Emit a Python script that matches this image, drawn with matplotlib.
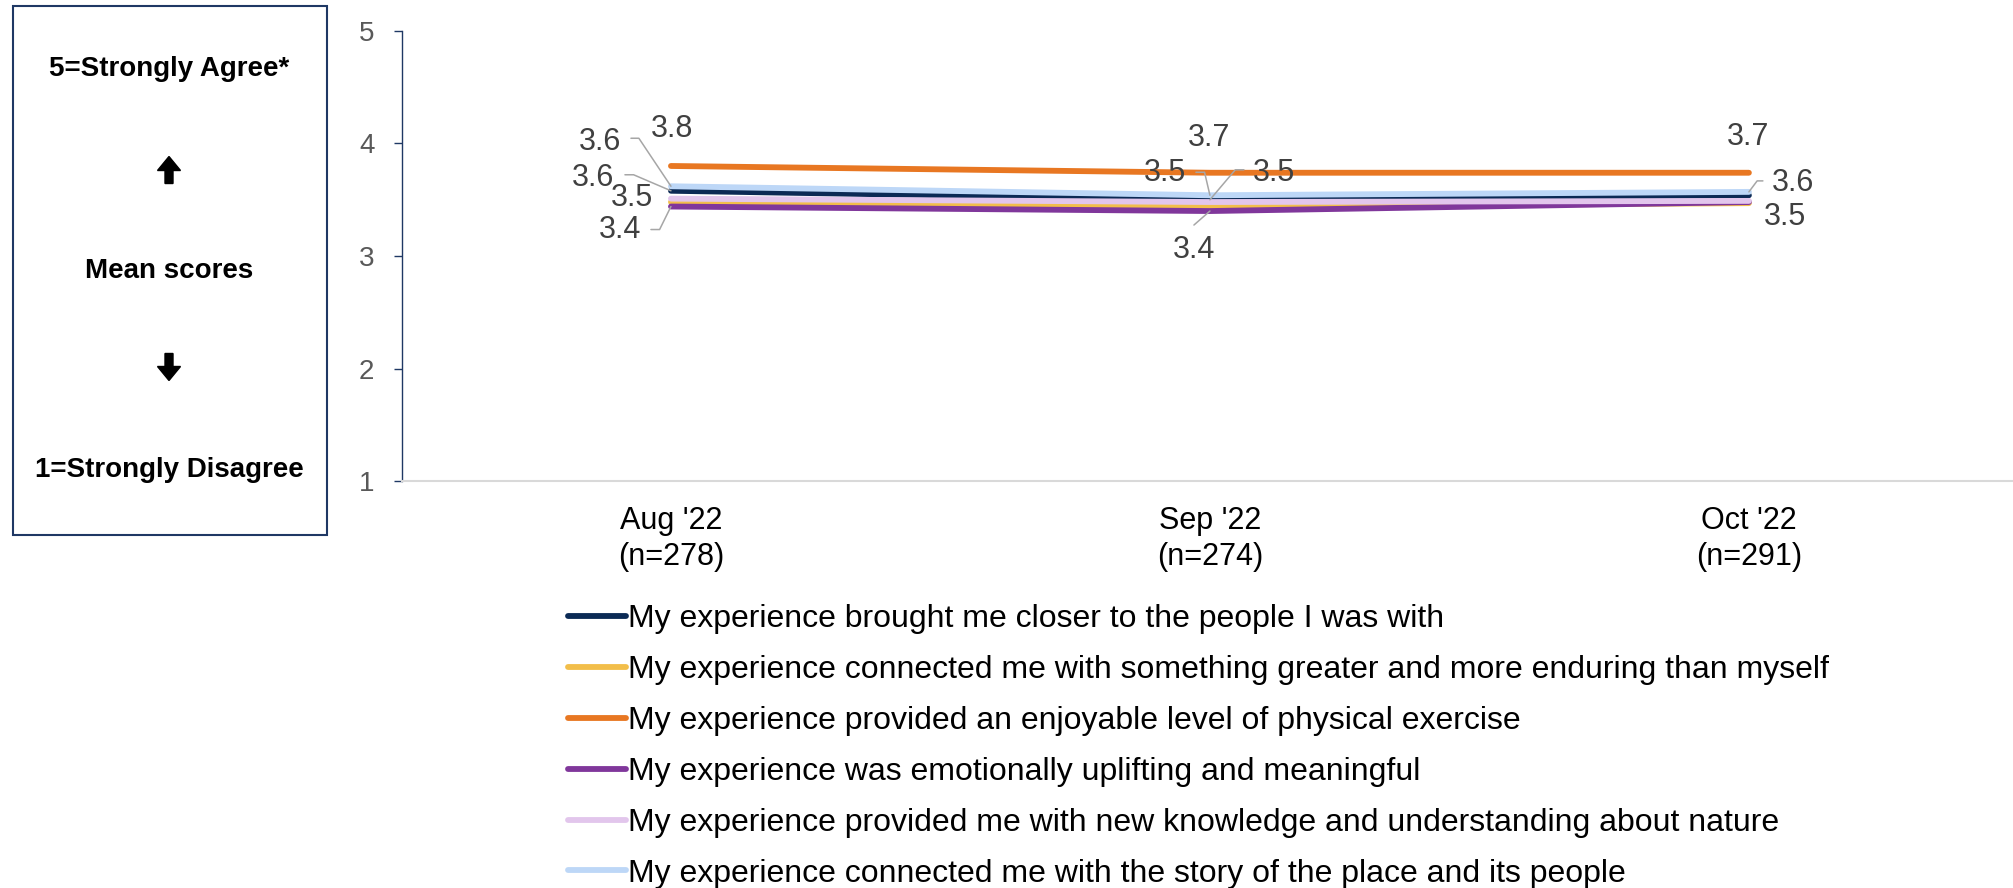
import matplotlib
matplotlib.use("Agg")
import matplotlib.pyplot as plt
from matplotlib.patches import FancyArrow, Rectangle

MONTHS = ["Aug '22", "Sep '22", "Oct '22"]
SAMPLE_SIZES = [278, 274, 291]

STATEMENTS = [
    "My experience brought me closer to the people I was with",
    "My experience connected me with something greater and more enduring than myself",
    "My experience provided an enjoyable level of physical exercise",
    "My experience was emotionally uplifting and meaningful",
    "My experience provided me with new knowledge and understanding about nature",
    "My experience connected me with the story of the place and its people",
]
COLORS = ["#0B2A55", "#F2BE4A", "#E87722", "#80379B", "#E2C6EC", "#BDD7F7"]

closer_people = [3.58, 3.50, 3.54]
greater_than_myself = [3.48, 3.44, 3.47]
physical_exercise = [3.80, 3.74, 3.74]
emotionally_uplifting = [3.44, 3.40, 3.48]
knowledge_nature = [3.51, 3.48, 3.49]
story_of_place = [3.62, 3.54, 3.57]
SERIES = [closer_people, greater_than_myself, physical_exercise,
          emotionally_uplifting, knowledge_nature, story_of_place]

# data label placement: series index -> list of (month, dx, dy, leader)
# offsets in pixels from the point; leader = (sx, sy, arm_px, arm_angle)
LABELS = {
    5: [(0, -71, 44, (-40, 48, 11, 0)), (1, -45, 22, (-14, 23, 12, 0)), (2, 44, 9, (14, 11, 8, 180))],
    2: [(0, 1, 37, None), (1, -1, 35, None), (2, -1, 36, None)],
    0: [(0, -78, 13, (-46, 16, 12, 0)), (1, 64, 27, (34, 30, 12, 180)), (2, 36, -22, None)],
    4: [(0, -39, 1, None)],
    3: [(0, -51, -23, (-20, -23, 12, 0)), (1, -16, -39, (-16, -14, 0, 0))],
}

W, H = 2013, 888
plt.rcParams["font.family"] = ["Liberation Sans", "DejaVu Sans"]

fig = plt.figure(figsize=(W / 100, H / 100), dpi=100)
ax = fig.add_axes([402 / W, 1 - 481.4 / H, 1 - 402 / W, (481.4 - 30.8) / H])

lines = []
for vals, color, name in zip(SERIES, COLORS, STATEMENTS):
    (ln,) = ax.plot(range(len(MONTHS)), vals, color=color, lw=4.2,
                    solid_capstyle="round", label=name)
    lines.append(ln)

for si, specs in LABELS.items():
    for mi, dx, dy, leader in specs:
        v = SERIES[si][mi]
        ax.annotate(f"{v:.1f}", xy=(mi, v), xytext=(dx, dy), textcoords="offset pixels",
                    ha="center", va="center", fontsize=22, color="#404040")
        if leader:
            sx, sy, arm, ang = leader
            ax.annotate("", xy=(mi, v), xytext=(sx, sy), textcoords="offset pixels",
                        arrowprops=dict(arrowstyle="-", color="#A6A6A6", lw=1.1,
                                        shrinkA=0, shrinkB=0,
                                        connectionstyle=f"arc,angleA={ang},armA={arm * 0.72},angleB=0,armB=0,rad=0"))

ax.set_xlim(-0.499, 2.49)
ax.set_ylim(1, 5)
ax.set_yticks([1, 2, 3, 4, 5])
ax.set_xticks(range(len(MONTHS)),
              labels=[f"{m}\n(n={n})" for m, n in zip(MONTHS, SAMPLE_SIZES)])
ax.tick_params(axis="y", length=5.8, width=1, color="#1F3864", pad=14,
               labelsize=20, labelcolor="#595959")
ax.tick_params(axis="x", length=0, pad=18, labelsize=22)
for lab in ax.get_xticklabels():
    lab.set_linespacing(1.26)
for s in ("top", "right"):
    ax.spines[s].set_visible(False)
ax.spines["left"].set_color("#1F3864")
ax.spines["left"].set_linewidth(1)
ax.spines["bottom"].set_color("#D9D9D9")
ax.spines["bottom"].set_linewidth(1.5)

fig.legend(handles=lines, loc="upper left", bbox_to_anchor=(568 / W, 1 - 604 / H),
           frameon=False, fontsize=23, handlelength=1.82, handletextpad=0.05,
           labelspacing=0.655, borderpad=0, borderaxespad=0)

# left-hand scale box
fig.add_artist(Rectangle((12.8 / W, 1 - 535 / H), (327 - 12.8) / W, (535 - 6.4) / H,
                         transform=fig.transFigure, fill=False, edgecolor="#1F3864", lw=1.5))
cx = 169 / W
for text, y in [("5=Strongly Agree*", 69), ("Mean scores", 271), ("1=Strongly Disagree", 470)]:
    fig.text(cx, 1 - y / H, text, ha="center", va="center", fontsize=20, fontweight="bold")
for yc, d in [(170, 1), (367, -1)]:
    y_in = (H - yc) / 100
    fig.add_artist(FancyArrow(1.69, y_in - d * 0.135, 0, d * 0.27, width=0.08, head_width=0.23,
                              head_length=0.14, length_includes_head=True, color="black",
                              transform=fig.dpi_scale_trans))

fig.savefig("out.png", dpi=100)
